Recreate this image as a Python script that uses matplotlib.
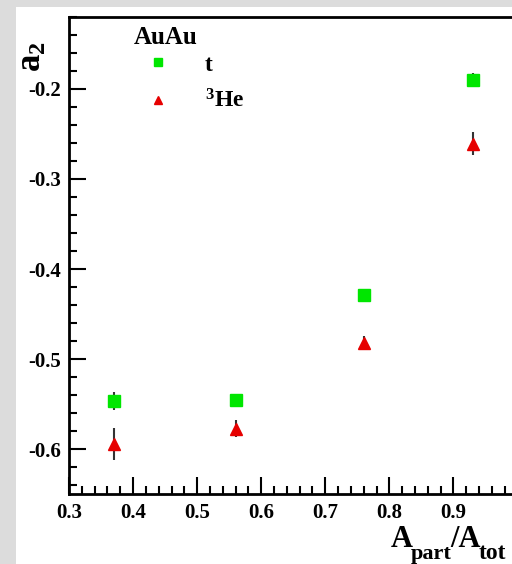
import numpy as np
import matplotlib
matplotlib.use("Agg")
import matplotlib.pyplot as plt
from matplotlib.patches import Rectangle
from matplotlib.ticker import MultipleLocator, FuncFormatter, FormatStrFormatter

plt.rcParams['font.family'] = 'Liberation Serif'
plt.rcParams['font.weight'] = 'bold'
plt.rcParams['mathtext.fontset'] = 'custom'
plt.rcParams['mathtext.rm'] = 'Liberation Serif:bold'
plt.rcParams['mathtext.it'] = 'Liberation Serif:bold'
plt.rcParams['mathtext.bf'] = 'Liberation Serif:bold'

# --- data ---
x_t = [0.37, 0.56, 0.76, 0.93]
y_t = [-0.546, -0.545, -0.429, -0.190]
e_t = [0.010, 0.004, 0.004, 0.008]

x_he = [0.37, 0.56, 0.76, 0.93]
y_he = [-0.594, -0.577, -0.482, -0.261]
e_he = [0.018, 0.009, 0.008, 0.013]

W, H = 512, 564
fig = plt.figure(figsize=(W / 100, H / 100), dpi=100)
fig.patch.set_facecolor('#dcdcdc')
# white canvas (picture is cropped on the right)
fig.patches.append(Rectangle((16 / W, 0), 1, 1 - 7 / H, transform=fig.transFigure,
                             facecolor='white', edgecolor='none', zorder=-10))

ax = fig.add_axes([69 / W, 1 - 494.3 / H, (517.5 - 69) / W, (494.3 - 16.7) / H])
ax.set_facecolor('white')

green, red = '#00e600', '#e60000'
ax.errorbar(x_t, y_t, yerr=e_t, fmt='none', ecolor='#333333', elinewidth=1.5,
            capsize=0, zorder=2)
ax.errorbar(x_he, y_he, yerr=e_he, fmt='none', ecolor='#333333', elinewidth=1.5,
            capsize=0, zorder=2)
ax.plot(x_t, y_t, 's', color=green, markersize=8, label='t', zorder=3)
ax.plot(x_he, y_he, '^', color=red, markersize=8, label=r'$^{3}$He', zorder=3)

ax.set_xlim(0.3, 1.0)
ax.set_ylim(-0.65, -0.12)
ax.xaxis.set_major_locator(MultipleLocator(0.1))
ax.xaxis.set_minor_locator(MultipleLocator(0.02))
ax.yaxis.set_major_locator(MultipleLocator(0.1))
ax.yaxis.set_minor_locator(MultipleLocator(0.02))
ax.xaxis.set_major_formatter(FuncFormatter(lambda v, p: '' if v > 0.95 else '%.1f' % v))
ax.yaxis.set_major_formatter(FormatStrFormatter('%.1f'))

ax.tick_params(which='both', direction='in', width=1.5, labelsize=15,
               top=False, right=False)
ax.tick_params(which='major', length=12, pad=6)
ax.tick_params(which='minor', length=6)
for sp in ax.spines.values():
    sp.set_linewidth(2)
for lab in ax.get_xticklabels() + ax.get_yticklabels():
    lab.set_fontweight('bold')

# x title built from pieces so the subscripts sit low, as in the original
renderer = fig.canvas.get_renderer()
xpos = 391
for s, size, dy in [('A', 22, 0), ('part', 16, 12), ('/A', 22, 0), ('tot', 17, 12)]:
    t = fig.text(xpos / W, 1 - (547 + dy) / H, s, fontsize=size, fontweight='bold',
                 ha='left', va='baseline')
    xpos += t.get_window_extent(renderer).width - 2

fig.text(32 / W, 1 - 57 / H, r'$\mathrm{a_{2}}$', fontsize=25, rotation=90,
         ha='center', va='center')

fig.text(134 / W, 1 - 38 / H, 'AuAu', fontsize=18, fontweight='bold',
         ha='left', va='center')
leg = ax.legend(loc='upper left', bbox_to_anchor=(134 / W, 1 - 54 / H),
                bbox_transform=fig.transFigure, frameon=False,
                fontsize=17, markerscale=0.7, handlelength=2.03,
                handletextpad=0.97, labelspacing=0.6, borderpad=0,
                borderaxespad=0)

fig.savefig('out.png', dpi=100, facecolor=fig.get_facecolor())
